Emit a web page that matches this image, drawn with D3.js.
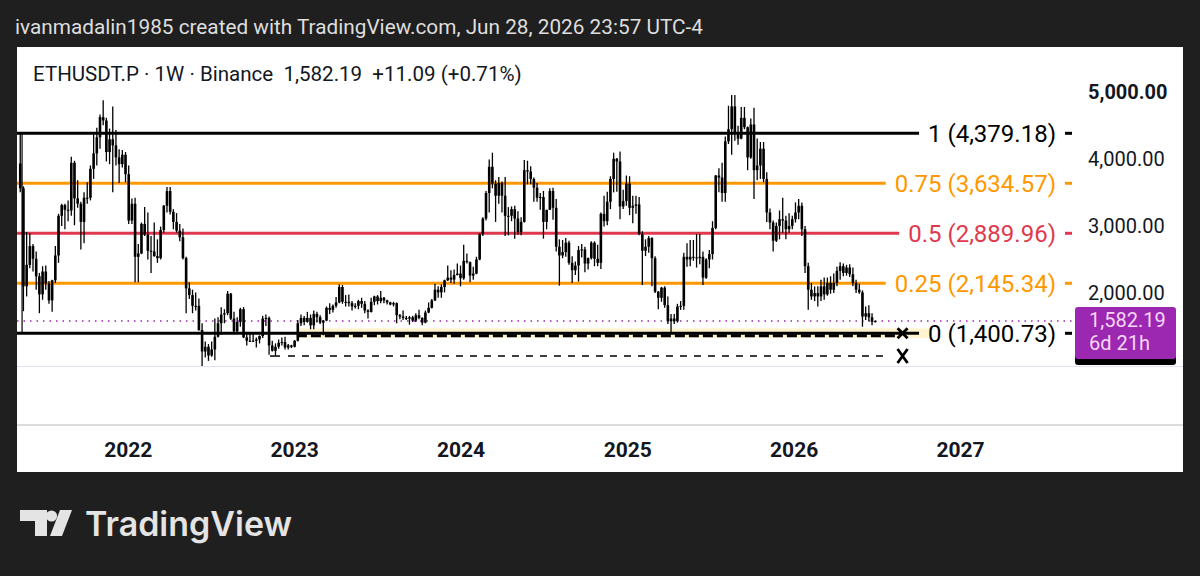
<!DOCTYPE html>
<html><head><meta charset="utf-8">
<script src="https://cdn.jsdelivr.net/npm/d3@7"></script>
<style>
html,body{margin:0;padding:0;background:#1f1f1f;}
svg{display:block;}
text{font-family:Roboto,"Noto Sans",sans-serif;}
</style></head><body>
<svg id="c" width="1200" height="576"></svg>
<script>
// ---- weekly OHLC [open, high, low, close] ----
const ohlc2021 = [
[3930,4379,3500,3560],[3560,3590,1730,2100],[2100,2910,1950,2420],[2420,2890,2370,2700],
[2700,2730,2320,2510],[2510,2620,2050,2250],[2250,2300,1700,1980],[1980,2400,1900,2320],
[2320,2410,2050,2140],[2140,2180,1840,1890],[1890,2200,1720,2190],[2190,2700,2150,2560],
[2560,3180,2450,3150],[3150,3330,3000,3310],[3310,3330,2950,3240],[3240,3380,3070,3230],
[3230,4030,3150,3940],[3940,3970,3010,3410],[3410,3680,3270,3330],[3330,3360,2650,3060],
[3060,3500,2740,3420],[3420,3650,3330,3420],[3420,3900,3380,3850],[3850,4380,3700,4080],
[4080,4460,3900,4320],[4320,4660,4150,4620],[4620,4870,4500,4570],[4570,4610,3960,4100],
[4100,4450,3920,4290],[4290,4780,3500,4200],[4200,4430,3900,4020],[4020,4140,3640,3920],
[3920,4130,3870,4060],[4060,4100,3650,3770]];
const ohlc2022 = [
[3770,3900,3030,3080],[3080,3410,3030,3330],[3330,3420,2160,2540],[2540,2730,2160,2590],
[2590,3050,2580,3030],[3030,3280,2850,2870],[2870,3200,2500,2630],[2630,2850,2300,2620],
[2620,3050,2540,2550],[2550,2800,2450,2520],[2520,2990,2500,2940],[2940,3310,2900,3300],
[3300,3580,3200,3520],[3520,3580,3170,3210],[3210,3250,2950,3060],[3060,3190,2900,2930],
[2930,3030,2770,2830],[2830,2960,2500,2520],[2520,2540,1700,2070],[2070,2160,1910,1970],
[1970,2050,1700,1810],[1810,2010,1740,1810],[1810,1920,1440,1450],[1450,1550,880,1130],
[1130,1280,1040,1200],[1200,1240,990,1070],[1070,1280,1050,1160],[1160,1620,1000,1350],
[1350,1640,1340,1550],[1550,1790,1380,1680],[1680,1760,1550,1700],[1700,2030,1670,1990],
[1990,2000,1600,1620],[1620,1720,1420,1430],[1430,1640,1420,1570],[1570,1780,1500,1760],
[1760,1790,1330,1340],[1340,1400,1220,1290],[1290,1400,1270,1280],[1280,1390,1270,1290],
[1290,1340,1190,1310],[1310,1370,1250,1360],[1360,1660,1330,1620],[1620,1680,1510,1630],
[1630,1650,1080,1220],[1220,1290,1130,1140],[1140,1250,1070,1200],[1200,1310,1170,1260],
[1260,1340,1220,1270],[1270,1350,1160,1190],[1190,1240,1160,1220],[1220,1230,1180,1200]];
const ohlc2023 = [
[1200,1300,1190,1290],[1290,1600,1280,1550],[1550,1680,1510,1630],[1630,1660,1520,1570],
[1570,1720,1560,1630],[1630,1680,1460,1520],[1520,1740,1460,1690],[1690,1720,1560,1640],
[1640,1670,1540,1560],[1560,1600,1370,1590],[1590,1800,1580,1780],[1780,1850,1690,1750],
[1750,1830,1710,1810],[1810,1940,1780,1860],[1860,2130,1850,2090],[2090,2120,1840,1870],
[1870,1970,1800,1870],[1870,1980,1800,1850],[1850,1880,1740,1800],[1800,1850,1770,1810],
[1810,1900,1760,1880],[1880,1930,1780,1840],[1840,1880,1700,1740],[1740,1760,1620,1720],
[1720,1930,1710,1870],[1870,1960,1820,1950],[1950,1970,1830,1880],[1880,2030,1850,1930],
[1930,1940,1850,1890],[1890,1900,1830,1860],[1860,1870,1820,1830],[1830,1870,1800,1850],
[1850,1860,1550,1670],[1670,1690,1610,1650],[1650,1740,1600,1630],[1630,1660,1600,1620],
[1620,1660,1530,1640],[1640,1660,1570,1590],[1590,1700,1570,1670],[1670,1750,1610,1630],
[1630,1640,1520,1560],[1560,1740,1550,1710],[1710,1860,1700,1780],[1780,1910,1770,1890],
[1890,2140,1880,2050],[2050,2100,1930,2010],[2010,2130,1930,2090],[2090,2200,2010,2190],
[2190,2410,2180,2230],[2230,2340,2150,2200],[2200,2350,2140,2270],[2270,2440,2260,2290]];
const ohlc2024 = [
[2290,2410,2100,2220],[2220,2720,2200,2480],[2480,2590,2440,2460],[2460,2470,2160,2260],
[2260,2390,2200,2290],[2290,2540,2280,2500],[2500,2890,2490,2880],[2880,3130,2850,3110],
[3110,3520,3080,3490],[3490,3990,3200,3880],[3880,4090,3560,3630],[3630,3680,3060,3450],
[3450,3730,3330,3640],[3640,3660,3200,3450],[3450,3730,2850,3150],[3150,3280,2860,3150],
[3150,3290,3070,3250],[3250,3300,2810,3110],[3110,3220,2870,2910],[2910,3130,2860,3060],
[3060,3980,3050,3830],[3830,3970,3620,3810],[3810,3890,3620,3700],[3700,3720,3360,3570],
[3570,3640,3360,3420],[3420,3490,3240,3430],[3430,3520,2810,3060],[3060,3240,2950,3240],
[3240,3560,3240,3520],[3520,3570,3090,3270],[3270,3400,2620,2690],[2690,2800,2110,2560],
[2560,2790,2520,2610],[2610,2820,2540,2750],[2750,2780,2420,2450],[2450,2550,2150,2340],
[2340,2470,2270,2410],[2410,2700,2170,2640],[2640,2730,2530,2650],[2650,2690,2310,2440],
[2440,2530,2350,2520],[2520,2770,2500,2750],[2750,2770,2400,2510],[2510,2720,2400,2450],
[2450,3200,2360,3180],[3180,3450,2990,3070],[3070,3510,3010,3360],[3360,3740,3250,3700],
[3700,4090,3500,4000],[4000,4010,3510,3960],[3960,4110,3100,3290],[3290,3540,3250,3370],
[3370,3750,3300,3630]];
const ohlc2025 = [
[3630,3740,3160,3270],[3270,3450,3040,3300],[3300,3450,3180,3320],[3320,3430,2860,2880],
[2880,2920,2120,2630],[2630,2800,2550,2690],[2690,2850,2600,2820],[2820,2830,2100,2520],
[2520,2550,2000,2020],[2020,2030,1760,1930],[1930,2090,1870,2080],[2080,2100,1780,1820],
[1820,1950,1540,1580],[1580,1690,1401,1620],[1620,1690,1540,1580],[1580,1840,1560,1800],
[1800,1880,1750,1810],[1810,2600,1750,2540],[2540,2740,2390,2500],[2500,2790,2400,2540],
[2540,2790,2480,2530],[2530,2880,2380,2520],[2520,2880,2430,2540],[2540,2620,2120,2230],
[2230,2520,2210,2500],[2500,2640,2370,2580],[2580,3070,2500,2970],[2970,3760,2950,3750],
[3750,3860,3500,3720],[3720,3940,3360,3490],[3490,4330,3360,4260],[4260,4790,4220,4440],
[4440,4950,4060,4780],[4780,4950,4270,4390],[4390,4490,4210,4300],[4300,4770,4290,4610],
[4610,4770,4440,4470],[4470,4480,3830,4020],[4020,4600,4000,4510],[4510,4760,3400,3830],
[3830,4300,3680,3900],[3900,4250,3700,4150],[4150,4250,3650,3700],[3700,3800,3060,3200],
[3200,3260,2950,3050],[3050,3080,2620,2780],[2780,3050,2760,3000],[3000,3230,2800,3100],
[3100,3420,2900,3080],[3080,3150,2800,2950],[2950,3190,2900,3000],[3000,3150,2950,3100]];
const ohlc2026 = [
[3100,3350,3050,3200],[3200,3400,3100,3300],[3300,3350,2850,2950],[2950,3000,2300,2400],
[2400,2450,1750,2050],[2050,2150,1900,1950],[1950,2100,1880,2000],[2000,2100,1800,1950],
[1950,2200,1880,2100],[2100,2230,1900,1980],[1980,2230,1960,2150],[2150,2250,1990,2050],
[2050,2290,2000,2150],[2150,2390,2100,2330],[2330,2460,2200,2400],[2400,2440,2250,2300],
[2300,2420,2260,2380],[2380,2430,2240,2280],[2280,2380,2100,2150],[2150,2200,2000,2050],
[2050,2140,1990,2010],[2010,2040,1500,1650],[1650,1800,1600,1700],[1700,1820,1580,1640],
[1640,1700,1520,1571.10],[1571.10,1590,1560,1582.19]];
const yearStarts = ["2021-05-10","2022-01-03","2023-01-02","2024-01-01","2025-01-06","2026-01-05"];
const yearSeries = [ohlc2021, ohlc2022, ohlc2023, ohlc2024, ohlc2025, ohlc2026];

// ---- fib retracement ----
const fibRatios = [1, 0.75, 0.5, 0.25, 0];
const fibPrices = [4379.18, 3634.57, 2889.96, 2145.34, 1400.73];
const fibColors = ["#000000", "#ff9800", "#e0394d", "#ff9800", "#000000"];
const fibAnchorDate = "2021-05-14";

// ---- axes ----
const priceTicks = [2000, 3000, 4000, 5000];
const yearTicks = [2022, 2023, 2024, 2025, 2026, 2027];

// ---- legend / last price ----
const symbolName = "ETHUSDT.P · 1W · Binance";
const lastPrice = 1582.19, priceChange = 11.09, priceChangePct = 0.71;
const countdown = "6d 21h";
const headerText = "ivanmadalin1985 created with TradingView.com, Jun 28, 2026 23:57 UTC-4";

// ---- other drawings ----
const zoneTop = 1475, zoneBottom = 1330, zoneDash = 1365;
const zoneStart = "2023-01-07", zoneEnd = "2026-10-27", zoneDashEnd = "2026-08-22";
const supportPrice = 1062, supportStart = "2022-11-09", supportEnd = "2026-07-19";
const crossDate = "2026-08-28";

// =================================================================
const parse = d3.utcParse("%Y-%m-%d");
const svg = d3.select("#c");
const fmt2 = d3.format(",.2f");

const bars = [];
yearSeries.forEach((arr, i) => {
  const s = parse(yearStarts[i]);
  arr.forEach((d, j) => bars.push({t: d3.utcDay.offset(s, 7 * j), o: d[0], h: d[1], l: d[2], c: d[3]}));
});

const PL = 17, PR = 1183, PT = 47, PB = 472;
const paneR = 1075, paneB = 366;

const x = d3.scaleUtc().domain([Date.UTC(2022,0,1), Date.UTC(2027,0,1)]).range([127.8, 960]);
const y = d3.scaleLinear().domain([fibPrices[4], fibPrices[0]]).range([333.3, 133.3]);

// header
const hdr = svg.append("text").attr("x", 15).attr("y", 34).attr("fill", "#dedede")
  .style("font-size", "20px").text(headerText);
fit(hdr, 688, 20);

// white panel
svg.append("rect").attr("x", PL).attr("y", PT).attr("width", PR - PL).attr("height", PB - PT).attr("fill", "#fff");

// separators
svg.append("line").attr("x1", PL).attr("x2", PR).attr("y1", paneB + 0.5).attr("y2", paneB + 0.5)
  .attr("stroke", "#e0e3eb").attr("stroke-width", 1);
svg.append("line").attr("x1", PL).attr("x2", PR).attr("y1", 425).attr("y2", 425)
  .attr("stroke", "#dcdcdc").attr("stroke-width", 2);

// clip
svg.append("clipPath").attr("id", "pane").append("rect")
  .attr("x", PL).attr("y", PT).attr("width", paneR - PL).attr("height", paneB - PT);
const g = svg.append("g").attr("clip-path", "url(#pane)");

// zone
g.append("rect").attr("x", x(parse(zoneStart))).attr("width", x(parse(zoneEnd)) - x(parse(zoneStart)))
  .attr("y", y(zoneTop)).attr("height", y(zoneBottom) - y(zoneTop)).attr("fill", "#fff4cf");

// price line (dotted)
g.append("line").attr("x1", PL).attr("x2", paneR).attr("y1", y(lastPrice)).attr("y2", y(lastPrice))
  .attr("stroke", "#9c27b0").attr("stroke-width", 1.5).attr("stroke-dasharray", "1.5,5");

// fib labels first (to get extents)
const labelRight = 1056;
fibRatios.forEach((r, i) => {
  const yy = y(fibPrices[i]);
  const t = svg.append("text").attr("x", labelRight).attr("y", yy + 8.5).attr("text-anchor", "end")
    .attr("fill", fibColors[i]).style("font-size", "24px").text(`${r} (${fmt2(fibPrices[i])})`);
  const bb = t.node().getBBox();
  g.append("line").attr("x1", PL).attr("x2", bb.x - 9).attr("y1", yy).attr("y2", yy)
    .attr("stroke", fibColors[i]).attr("stroke-width", 3);
  svg.append("line").attr("x1", 1065).attr("x2", 1072).attr("y1", yy).attr("y2", yy)
    .attr("stroke", fibColors[i]).attr("stroke-width", 3);
});
// fib anchor line
g.append("line").attr("x1", x(parse(fibAnchorDate))).attr("x2", x(parse(fibAnchorDate)))
  .attr("y1", y(fibPrices[0])).attr("y2", y(fibPrices[4])).attr("stroke", "#000").attr("stroke-width", 1.2);

// zone dashed line
g.append("line").attr("x1", x(parse(zoneStart))).attr("x2", x(parse(zoneDashEnd)))
  .attr("y1", y(zoneDash)).attr("y2", y(zoneDash)).attr("stroke", "#000").attr("stroke-width", 3)
  .attr("stroke-dasharray", "10,4");
// support dashed line
const sx0 = x(parse(supportStart));
g.append("line").attr("x1", sx0).attr("x2", sx0 + 10).attr("y1", y(supportPrice)).attr("y2", y(supportPrice))
  .attr("stroke", "#000").attr("stroke-width", 1.5);
g.append("line").attr("x1", sx0 + 18).attr("x2", x(parse(supportEnd))).attr("y1", y(supportPrice)).attr("y2", y(supportPrice))
  .attr("stroke", "#000").attr("stroke-width", 1.5).attr("stroke-dasharray", "7,7");

// candles
const cg = g.append("g");
cg.selectAll("line.w").data(bars).join("line").attr("class", "w")
  .attr("x1", d => x(d.t)).attr("x2", d => x(d.t))
  .attr("y1", d => y(d.h)).attr("y2", d => y(d.l)).attr("stroke", "#000").attr("stroke-width", 1.3);
cg.selectAll("rect.b").data(bars).join("rect").attr("class", "b")
  .attr("x", d => x(d.t) - 1.3)
  .attr("width", 2.6)
  .attr("y", d => y(Math.max(d.o, d.c)))
  .attr("height", d => Math.max(1, Math.abs(y(d.o) - y(d.c))))
  .attr("fill", "#000");

// cross markers
const cx = x(parse(crossDate));
[[fibPrices[4], 5, 5], [supportPrice, 5, 7]].forEach(([p, w, h]) => {
  const yy = y(p);
  svg.append("path").attr("d", `M${cx - w},${yy - h}L${cx + w},${yy + h}M${cx + w},${yy - h}L${cx - w},${yy + h}`)
    .attr("stroke", "#000").attr("stroke-width", 2.8).attr("fill", "none");
});

// price axis
const ya = svg.append("g").attr("transform", `translate(1088,0)`)
  .call(d3.axisRight(y).tickValues(priceTicks).tickFormat(fmt2).tickSize(0).tickPadding(0));
ya.select(".domain").remove();
ya.selectAll("text").attr("fill", "#131722").style("font-size", "20px").style("font-family", "Roboto")
  .style("font-weight", d => d === 5000 ? "700" : "400");

// time axis
const xa = svg.append("g").attr("transform", `translate(0,442)`)
  .call(d3.axisBottom(x).tickValues(yearTicks.map(v => new Date(Date.UTC(v, 0, 1))))
    .tickFormat(d3.utcFormat("%Y")).tickSize(0).tickPadding(0));
xa.select(".domain").remove();
xa.selectAll("text").attr("fill", "#131722").style("font-size", "21px").style("font-weight", "700")
  .style("font-family", "Roboto");

// last price label
svg.append("rect").attr("x", 1075).attr("y", 354).attr("width", 101).attr("height", 11).attr("rx", 3).attr("fill", "#000");
svg.append("rect").attr("x", 1075).attr("y", 307).attr("width", 101).attr("height", 52).attr("rx", 3).attr("fill", "#9c27b0");
svg.append("text").attr("x", 1089).attr("y", 327).attr("fill", "#f6d8fa").style("font-size", "20px").text(fmt2(lastPrice));
svg.append("text").attr("x", 1089).attr("y", 350).attr("fill", "#f6d8fa").style("font-size", "20px").text(countdown);

// legend
const lg = svg.append("text").attr("x", 33).attr("y", 81).attr("fill", "#131722").style("font-size", "20px")
  .text(`${symbolName}  ${fmt2(lastPrice)}  +${priceChange.toFixed(2)} (+${priceChangePct.toFixed(2)}%)`)
  .attr("xml:space", "preserve").style("white-space", "pre");
fit(lg, 489, 20);

// TradingView logo
const logo = svg.append("g").attr("fill", "#e4e4e4");
logo.append("path").attr("d", "M20,510H47V536H35V521H20Z");
logo.append("circle").attr("cx", 51.5).attr("cy", 516).attr("r", 5.6);
logo.append("path").attr("d", "M60,510H72L62,536H50Z");
const lt = logo.append("text").attr("x", 85).attr("y", 536).style("font-family", "Inter, Roboto, sans-serif")
  .style("font-weight", "600").style("font-size", "36px").text("TradingView");
fit(lt, 207, 36);

function fit(sel, target, size) {
  const w = sel.node().getComputedTextLength();
  if (w > 0) sel.style("font-size", (size * target / w).toFixed(2) + "px");
}
</script>
</body></html>
